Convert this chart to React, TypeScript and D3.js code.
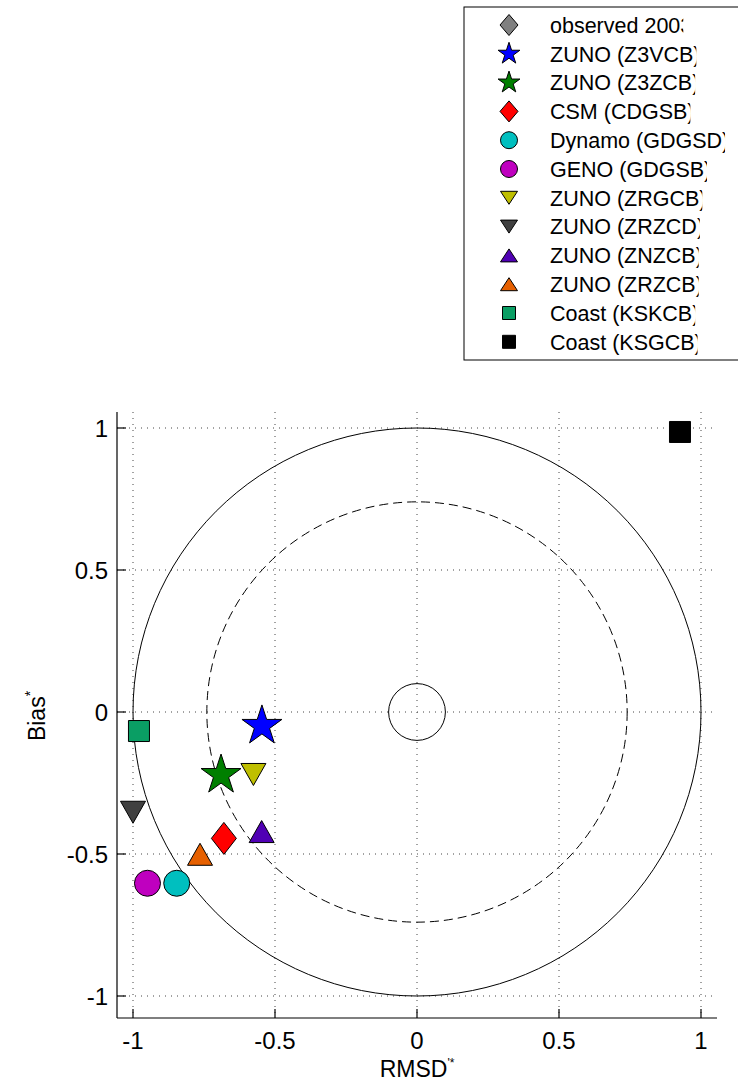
import React, { useLayoutEffect, useRef } from "react";
import * as d3 from "d3";

// ---- data ----
const labels = [
  "observed 2003",
  "ZUNO (Z3VCB)",
  "ZUNO (Z3ZCB)",
  "CSM (CDGSB)",
  "Dynamo (GDGSD)",
  "GENO (GDGSB)",
  "ZUNO (ZRGCB)",
  "ZUNO (ZRZCD)",
  "ZUNO (ZNZCB)",
  "ZUNO (ZRZCB)",
  "Coast (KSKCB)",
  "Coast (KSGCB)",
];
const markers = ["diamond", "star", "star", "diamond", "circle", "circle", "triDown", "triDown", "triUp", "triUp", "square", "square"];
const colors = ["#808080", "#0000ff", "#007f00", "#ff0000", "#00bfbf", "#bf00bf", "#bfbf00", "#404040", "#5000b4", "#e66000", "#0a9e64", "#000000"];
const rmsd: (number | null)[] = [null, -0.546, -0.69, -0.68, -0.846, -0.949, -0.576, -1.0, -0.547, -0.764, -0.979, 0.926];
const bias: (number | null)[] = [null, -0.049, -0.222, -0.445, -0.603, -0.603, -0.22, -0.353, -0.421, -0.501, -0.067, 0.986];
const ticks = [-1, -0.5, 0, 0.5, 1];
const circleRadii = [1, 0.74, 0.1];

const W = 738;
const H = 1083;
const FONT = "'Liberation Sans', Arial, Helvetica, sans-serif";

type Sz = { star: number; circle: number; square: number; dw: number; dh: number; tw: number; th: number };
const plotSz: Sz = { star: 21, circle: 13, square: 21, dw: 25, dh: 32, tw: 25, th: 22 };
const legSz: Sz = { star: 11.5, circle: 8.5, square: 13, dw: 18, dh: 21, tw: 17, th: 13 };

function markerPath(type: string, s: Sz): string {
  switch (type) {
    case "star": {
      const size = (s.star * s.star) / 0.8908130915292852;
      return d3.symbol(d3.symbolStar, size)() as string;
    }
    case "circle": {
      const r = s.circle;
      return `M${-r},0A${r},${r} 0 1,0 ${r},0A${r},${r} 0 1,0 ${-r},0Z`;
    }
    case "square": {
      const h = s.square / 2;
      return `M${-h},${-h}L${h},${-h}L${h},${h}L${-h},${h}Z`;
    }
    case "diamond": {
      const w = s.dw / 2, h = s.dh / 2;
      return `M0,${-h}L${w},0L0,${h}L${-w},0Z`;
    }
    case "triUp": {
      const w = s.tw / 2, h = s.th / 2;
      return `M0,${-h}L${w},${h}L${-w},${h}Z`;
    }
    case "triDown": {
      const w = s.tw / 2, h = s.th / 2;
      return `M0,${h}L${w},${-h}L${-w},${-h}Z`;
    }
  }
  return "";
}

export default function App() {
  const x = d3.scaleLinear().domain([-1, 1]).range([133, 701]);
  const y = d3.scaleLinear().domain([-1, 1]).range([996, 428]);
  const left = 117, right = 717, top = 412, bottom = 1018;
  const legendRef = useRef<SVGGElement>(null);

  useLayoutEffect(() => {
    const g = legendRef.current;
    if (!g) return;
    const texts = g.querySelectorAll("text");
    texts.forEach((t, i) => {
      const el = t as SVGTextElement;
      const n = el.getNumberOfChars();
      let w = el.getComputedTextLength();
      try {
        const last = el.getSubStringLength(n - 1, 1);
        w = w - last + 3;
      } catch (e) {}
      const rect = document.getElementById(`lclip-r-${i}`);
      if (rect) rect.setAttribute("width", String(w));
    });
  }, []);

  const legX = 509, textX = 550, row0 = 25, rowH = 28.8;

  return (
    <svg width={W} height={H} style={{ position: "absolute", left: 0, top: 0, background: "#fff" }} fontFamily={FONT}>
      <rect x={0} y={0} width={W} height={H} fill="#fff" />
      <defs>
        {labels.map((_, i) => (
          <clipPath id={`lclip-${i}`} key={i}>
            <rect id={`lclip-r-${i}`} x={textX} y={row0 + i * rowH - 20} width={300} height={40} />
          </clipPath>
        ))}
      </defs>

      {/* grid */}
      <g stroke="#444" strokeWidth={1} strokeDasharray="1,5" fill="none">
        {ticks.map((t) => (
          <line key={`gx${t}`} x1={x(t)} x2={x(t)} y1={top} y2={bottom} />
        ))}
        {ticks.map((t) => (
          <line key={`gy${t}`} x1={left} x2={right} y1={y(t)} y2={y(t)} />
        ))}
      </g>

      {/* circles */}
      {circleRadii.map((r, i) => (
        <circle
          key={i}
          cx={x(0)}
          cy={y(0)}
          r={x(r) - x(0)}
          fill="none"
          stroke="#000"
          strokeWidth={1}
          strokeDasharray={i === 1 ? "9,5" : undefined}
        />
      ))}

      {/* axes */}
      <g stroke="#000" strokeWidth={1.2} fill="none">
        <line x1={left} x2={left} y1={top} y2={bottom} />
        <line x1={left} x2={right} y1={bottom} y2={bottom} />
        {ticks.map((t) => (
          <line key={`tx${t}`} x1={x(t)} x2={x(t)} y1={bottom} y2={bottom - 9} />
        ))}
        {ticks.map((t) => (
          <line key={`ty${t}`} x1={left} x2={left + 9} y1={y(t)} y2={y(t)} />
        ))}
      </g>
      <g fontSize={24} fill="#000">
        {ticks.map((t) => (
          <text key={`lx${t}`} x={x(t)} y={1049} textAnchor="middle">
            {t === 0 ? "0" : String(t)}
          </text>
        ))}
        {ticks.map((t) => (
          <text key={`ly${t}`} x={108} y={y(t)} dy="0.36em" textAnchor="end">
            {String(t)}
          </text>
        ))}
      </g>
      <text x={x(0)} y={1077} textAnchor="middle" fontSize={23} fill="#000">
        RMSD
        <tspan fontSize={12} dy={-10}>'*</tspan>
      </text>
      <text transform={`translate(45,${y(0) + 4}) rotate(-90)`} textAnchor="middle" fontSize={23} fill="#000">
        Bias
        <tspan fontSize={14} dy={-10}>*</tspan>
      </text>

      {/* points */}
      <g stroke="#000" strokeWidth={1}>
        {labels.map((l, i) =>
          rmsd[i] === null || bias[i] === null ? null : (
            <path
              key={l}
              d={markerPath(markers[i], plotSz)}
              transform={`translate(${x(rmsd[i] as number)},${y(bias[i] as number)})`}
              fill={colors[i]}
            />
          )
        )}
      </g>

      {/* legend */}
      <rect x={464} y={7} width={300} height={353} fill="#fff" stroke="#000" strokeWidth={1} />
      <g stroke="#000" strokeWidth={1}>
        {labels.map((l, i) => (
          <path
            key={l}
            d={markerPath(markers[i], legSz)}
            transform={`translate(${legX},${row0 + i * rowH})`}
            fill={colors[i]}
          />
        ))}
      </g>
      <g ref={legendRef} fontSize={21.5} fill="#000">
        {labels.map((l, i) => (
          <text key={l} x={textX} y={row0 + i * rowH} dy="0.36em" clipPath={`url(#lclip-${i})`}>
            {l}
          </text>
        ))}
      </g>
    </svg>
  );
}
